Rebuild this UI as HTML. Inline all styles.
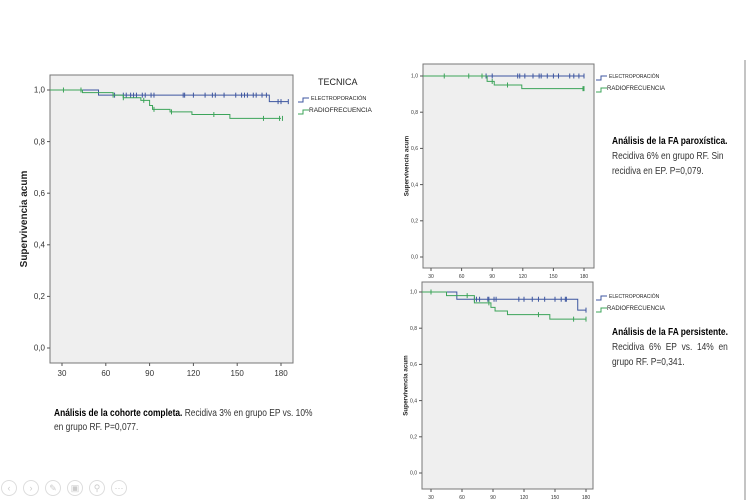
<!DOCTYPE html>
<html><head><meta charset="utf-8">
<style>
body{margin:0;width:750px;height:500px;background:#fff;overflow:hidden;font-family:"Liberation Sans",sans-serif;position:relative}
.note{position:absolute;font-family:"Liberation Sans",sans-serif;color:#333;font-size:10.5px;line-height:14px;white-space:nowrap;transform-origin:0 0;transform:scaleX(0.8)}
.note b{color:#000}
</style></head><body>
<svg id="s" width="750" height="500" style="position:absolute;left:0;top:0"></svg>
<div class="note" style="left:54px;top:406px"><b>Análisis de la cohorte completa.</b> Recidiva 3% en grupo EP vs. 10%<br>en grupo RF. P=0,077.</div>
<div class="note" style="left:612px;top:134px;line-height:15px"><b>Análisis de la FA paroxística.</b><br>Recidiva 6% en grupo RF. Sin<br>recidiva en EP. P=0,079.</div>
<div class="note" style="left:612px;top:325px;line-height:15px"><b>Análisis de la FA persistente.</b><br>Recidiva&nbsp; 6%&nbsp; EP&nbsp; vs.&nbsp; 14%&nbsp; en<br>grupo RF. P=0,341.</div>
<script>
const xTicks=[30,60,90,120,150,180];
const yTicks=[0,0.2,0.4,0.6,0.8,1.0];
const yTickLabels=["0,0","0,2","0,4","0,6","0,8","1,0"];
// main cohort
const mainEpTimes=[0,55,172,185];
const mainEpSurv=[1.0,0.98,0.955,0.955];
const mainEpCens=[66,72,74,77,79,81,85,87,91,93,113,114,120,128,133,135,141,149,153,155,157,161,163,167,170,178,180,185];
const mainRfTimes=[0,44,65,72,84,90,92,104,119,145,180];
const mainRfSurv=[1.0,0.99,0.98,0.97,0.96,0.94,0.925,0.915,0.905,0.89,0.89];
const mainRfCens=[31,43,65,72,86,93,105,134,168,179,181];
// paroxysmal
const parEpTimes=[0,180];
const parEpSurv=[1.0,1.0];
const parEpCens=[84,90,115,117,122,130,136,138,144,150,155,166,170,175,180];
const parRfTimes=[0,85,92,119,180];
const parRfSurv=[1.0,0.97,0.95,0.93,0.93];
const parRfCens=[43,67,80,90,105,179,180];
// persistent
const perEpTimes=[0,55,172,180];
const perEpSurv=[1.0,0.96,0.90,0.90];
const perEpCens=[72,74,77,85,86,91,93,115,120,128,134,140,150,156,160,161,180];
const perRfTimes=[0,45,72,88,92,104,145,180];
const perRfSurv=[1.0,0.98,0.94,0.915,0.895,0.875,0.85,0.85];
const perRfCens=[30,65,86,134,168,180];

const NS="http://www.w3.org/2000/svg";
const svg=document.getElementById('s');
function mk(t,a,p){const e=document.createElementNS(NS,t);for(const k in a)e.setAttribute(k,a[k]);(p||svg).appendChild(e);return e;}
function panel(name,box,x30,x180,y1,y0,fs,series){
  const g=mk('g',{});
  
  
  const sx=v=>x30+(v-30)*(x180-x30)/150;
  const sy=v=>y0+(y1-y0)*v;
  const bg=mk('rect',{x:box[0],y:box[1],width:box[2]-box[0],height:box[3]-box[1],fill:'#efefef',stroke:'#777','stroke-width':1},g);
  
  
  xTicks.forEach(t=>{
    mk('line',{x1:sx(t),x2:sx(t),y1:box[3],y2:box[3]+3,stroke:'#555'},g);
    const tx=mk('text',{x:sx(t),y:box[3]+fs+5,'font-size':fs,'text-anchor':'middle',fill:'#333'},g);
    tx.textContent=t;
    
    
  });
  yTicks.forEach((t,i)=>{
    mk('line',{x1:box[0]-3,x2:box[0],y1:sy(t),y2:sy(t),stroke:'#555'},g);
    const tx=mk('text',{x:box[0]-5,y:sy(t)+fs/3,'font-size':fs,'text-anchor':'end',fill:'#333'},g);
    tx.textContent=yTickLabels[i];
    
    
  });
  const cy=(box[1]+box[3])/2, ax=box[0]-fs*2.9;
  const yl=mk('text',{x:ax,y:cy,'font-size':fs*1.25,'font-weight':'bold','text-anchor':'middle',fill:'#222',transform:`rotate(-90 ${ax} ${cy})`},g);
  yl.textContent='Supervivencia acum';
  
  
  series.forEach(s=>{
    let d=`M${box[0]},${sy(s.v[0])}`;
    for(let i=1;i<s.t.length;i++){d+=`H${sx(s.t[i])}V${sy(s.v[i])}`;}
    const p=mk('path',{d:d,fill:'none',stroke:s.c,'stroke-width':1},g);
    
    
    s.cens.forEach(c=>{
      let v=s.v[0];for(let i=0;i<s.t.length;i++){if(s.t[i]<=c)v=s.v[i];}
      const m=mk('line',{x1:sx(c),x2:sx(c),y1:sy(v)-2.5,y2:sy(v)+2.5,stroke:s.c,'stroke-width':1},g);
      
      
    });
  });
  return {g,sx,sy};
}
panel('main-km-chart',[50,75,293,363],62,281,90,348,8,[
 {n:'electroporacion',c:'#3d56a0',t:mainEpTimes,v:mainEpSurv,cens:mainEpCens},
 {n:'radiofrecuencia',c:'#3ca45a',t:mainRfTimes,v:mainRfSurv,cens:mainRfCens}]);
panel('paroxysmal-km-chart',[423,64,594,268],431,584,76,257,5,[
 {n:'electroporacion',c:'#3d56a0',t:parEpTimes,v:parEpSurv,cens:parEpCens},
 {n:'radiofrecuencia',c:'#3ca45a',t:parRfTimes,v:parRfSurv,cens:parRfCens}]);
panel('persistent-km-chart',[422,282,593,489],431,586,292,473,5,[
 {n:'electroporacion',c:'#3d56a0',t:perEpTimes,v:perEpSurv,cens:perEpCens},
 {n:'radiofrecuencia',c:'#3ca45a',t:perRfTimes,v:perRfSurv,cens:perRfCens}]);
function leg(x,y,fs,title){
  const g=mk('g',{});
  
  
  if(title){const t=mk('text',{x:x+20,y:y-13,'font-size':9,fill:'#222'},g);t.textContent=title;}
  mk('path',{d:`M${x},${y+4}h5v-4h6`,fill:'none',stroke:'#3d56a0'},g);
  mk('path',{d:`M${x},${y+16}h5v-4h6`,fill:'none',stroke:'#3ca45a'},g);
  const a=mk('text',{x:x+13,y:y+2,'font-size':fs,fill:'#222'},g);a.textContent='ELECTROPORACIÓN';
  
  const b=mk('text',{x:x+11,y:y+14,'font-size':fs+1,fill:'#222'},g);b.textContent='RADIOFRECUENCIA';
  
}
leg(298,98,5.5,'TECNICA');
leg(596,76,5,null);
leg(596,296,5,null);
mk('line',{x1:745,y1:60,x2:745,y2:500,stroke:'#888','stroke-width':1});
['‹','›','✎','▣','⚲','⋯'].forEach((c,i)=>{
  const cx=9+i*22;
  const ci=mk('circle',{cx:cx,cy:488,r:7.5,fill:'none',stroke:'#ddd'});
  
  
  const t=mk('text',{x:cx,y:491,'font-size':9,'text-anchor':'middle',fill:'#ccc'});t.textContent=c;
});
</script>
</body></html>
